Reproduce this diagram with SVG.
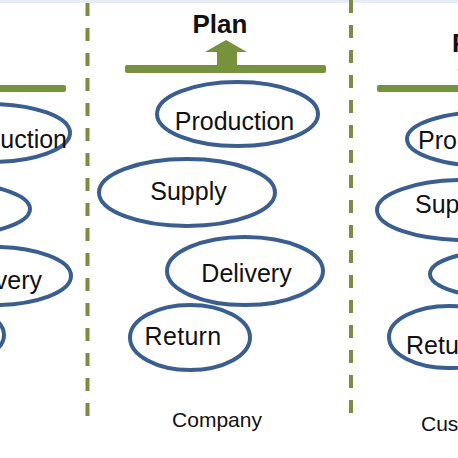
<svg xmlns="http://www.w3.org/2000/svg" width="458" height="458" viewBox="0 0 458 458">
<style>
.el{fill:none;stroke:#3a5f8f;stroke-width:4}
.lb{font-family:"Liberation Sans",Arial,sans-serif;font-size:25px;fill:#111}
.sm{font-family:"Liberation Sans",Arial,sans-serif;font-size:21px;fill:#111}
.pl{font-family:"Liberation Sans",Arial,sans-serif;font-size:26px;font-weight:bold;fill:#111}
.bar{fill:#77923d}
.div{stroke:#7f8a45;stroke-width:4;stroke-dasharray:13 12;fill:none}
</style>
<rect x="0" y="0" width="458" height="458" fill="#ffffff"/>
<rect x="0" y="0" width="458" height="3" fill="#e8edf3"/>
<g id="dividers">
<line class="div" x1="87.5" y1="3" x2="87.5" y2="418"/>
<line class="div" x1="351" y1="0" x2="351" y2="416"/>
</g>
<g id="plan-bars">
<rect class="bar" x="-5" y="85" width="71" height="7" rx="2"/>
<rect class="bar" x="125" y="65" width="201" height="8" rx="2"/>
<polygon class="bar" points="217,67 217,52 205,52 226,40 247,52 237,52 237,67"/>
<rect class="bar" x="377" y="85" width="90" height="7" rx="2"/>
<polygon class="bar" points="457,70 478,58 499,70"/>
</g>
<g id="left-panel">
<g id="left-production"><ellipse class="el" cx="-10" cy="133" rx="80" ry="29"/><text class="lb" x="67" y="148" text-anchor="end">uction</text></g>
<g id="left-supply"><ellipse class="el" cx="-58" cy="209" rx="88" ry="27"/></g>
<g id="left-delivery"><ellipse class="el" cx="-7" cy="276" rx="78" ry="29"/><text class="lb" x="42" y="289" text-anchor="end">very</text></g>
<g id="left-return"><ellipse class="el" cx="-56" cy="335" rx="60" ry="30"/></g>
</g>
<g id="company-panel">
<g id="plan"><text class="pl" x="220" y="33" text-anchor="middle">Plan</text></g>
<g id="production"><ellipse class="el" cx="237.5" cy="114" rx="80.5" ry="32"/><text class="lb" x="234.5" y="130" text-anchor="middle">Production</text></g>
<g id="supply"><ellipse class="el" cx="187" cy="192.5" rx="88" ry="33.5"/><text class="lb" x="188.5" y="200" text-anchor="middle">Supply</text></g>
<g id="delivery"><ellipse class="el" cx="245" cy="271" rx="78" ry="34"/><text class="lb" x="246.5" y="282" text-anchor="middle">Delivery</text></g>
<g id="return"><ellipse class="el" cx="190" cy="337.5" rx="60" ry="32.5"/><text class="lb" x="183" y="345" text-anchor="middle" font-size="23.5" letter-spacing="0.3">Return</text></g>
<g id="company"><text class="sm" x="217" y="427" text-anchor="middle">Company</text></g>
</g>
<g id="right-panel">
<g id="right-plan"><text class="pl" x="452" y="52">P</text></g>
<g id="right-production"><ellipse class="el" cx="487" cy="139" rx="80" ry="27"/><text class="lb" x="418" y="149">Pro</text></g>
<g id="right-supply"><ellipse class="el" cx="465" cy="210" rx="88" ry="30"/><text class="lb" x="415" y="213">Sup</text></g>
<g id="right-delivery"><ellipse class="el" cx="508" cy="274" rx="78" ry="24"/></g>
<g id="right-return"><ellipse class="el" cx="449" cy="337" rx="60" ry="31"/><text class="lb" x="406" y="354" font-size="23.5">Retur</text></g>
<g id="customer"><text class="sm" x="421" y="431">Cus</text></g>
</g>
</svg>
